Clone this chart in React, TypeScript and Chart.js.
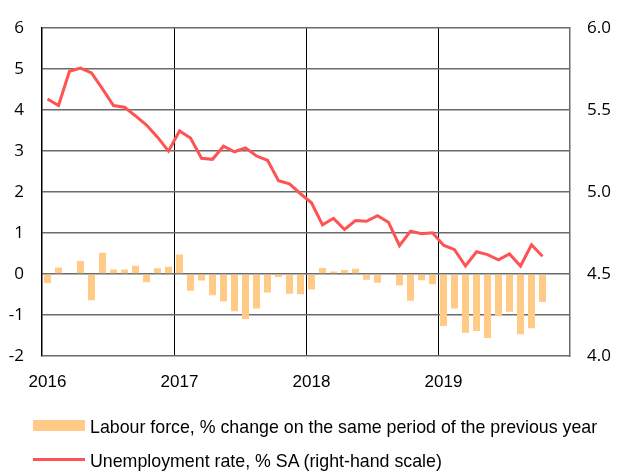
import React, { useEffect, useRef } from "react";
import { Chart, registerables } from "chart.js";

Chart.register(...registerables);

const years = ["2016", "2017", "2018", "2019"];
const months = years.flatMap((y) =>
  Array.from({ length: 12 }, (_, m) => `${y}-${String(m + 1).padStart(2, "0")}`)
);

const labourForce = [
  -0.22, 0.16, 0.02, 0.32, -0.64, 0.52, 0.11, 0.11, 0.2, -0.2, 0.14, 0.18,
  0.48, -0.41, -0.16, -0.52, -0.67, -0.91, -1.1, -0.84, -0.45, -0.07, -0.48, -0.49,
  -0.38, 0.15, 0.06, 0.1, 0.13, -0.14, -0.21, -0.01, -0.28, -0.65, -0.15, -0.25,
  -1.27, -0.84, -1.43, -1.39, -1.56, -1.02, -0.92, -1.47, -1.32, -0.68,
];

const unemployment = [
  5.568, 5.528, 5.737, 5.757, 5.727, 5.63, 5.528, 5.518, 5.465, 5.409, 5.335, 5.25,
  5.373, 5.33, 5.206, 5.2, 5.28, 5.246, 5.27, 5.22, 5.194, 5.07, 5.05, 4.99,
  4.935, 4.8, 4.84, 4.772, 4.826, 4.822, 4.856, 4.816, 4.673, 4.762, 4.746, 4.752,
  4.676, 4.649, 4.549, 4.636, 4.619, 4.587, 4.623, 4.549, 4.679, 4.609,
];

const leftTicks = [-2, -1, 0, 1, 2, 3, 4, 5, 6];
const rightTicks = [4.0, 4.5, 5.0, 5.5, 6.0];

const legendLabels = [
  "Labour force, % change on the same period of the previous year",
  "Unemployment rate, % SA (right-hand scale)",
];

const BAR_COLOR = "rgb(255,203,134)";
const LINE_COLOR = "rgb(255,82,82)";
const GRID_COLOR = "#6b6b6b";
const TICK_FONT = '"Open Sans", sans-serif';
const COND_FONT = '"Liberation Sans", Arial, sans-serif';

export default function App() {
  const ref = useRef<HTMLCanvasElement | null>(null);

  useEffect(() => {
    document.body.style.margin = "0";
    const canvas = ref.current;
    if (!canvas) return;
    const chart = new Chart(canvas, {
      type: "bar",
      data: {
        labels: months,
        datasets: [
          {
            type: "line",
            label: legendLabels[1],
            data: unemployment,
            yAxisID: "y1",
            borderColor: LINE_COLOR,
            backgroundColor: LINE_COLOR,
            borderWidth: 3,
            pointRadius: 0,
            tension: 0,
            order: 0,
          },
          {
            type: "bar",
            label: legendLabels[0],
            data: labourForce,
            yAxisID: "y",
            backgroundColor: BAR_COLOR,
            categoryPercentage: 1,
            barPercentage: 0.64,
            order: 1,
          },
        ],
      },
      options: {
        animation: false,
        responsive: false,
        layout: { padding: { top: 21, left: 0, right: 0, bottom: 0 } },
        plugins: { legend: { display: false }, tooltip: { enabled: false } },
        scales: {
          x: {
            type: "category",
            offset: true,
            grid: {
              offset: true,
              drawTicks: false,
              color: (ctx: any) => (ctx.index % 12 === 0 && ctx.index > 0 && ctx.index < 48 ? "#000" : "rgba(0,0,0,0)"),
              lineWidth: 1,
            },
            border: { display: false },
            ticks: {
              autoSkip: false,
              maxRotation: 0,
              padding: 16,
              color: "#000",
              font: { family: COND_FONT, size: 17 },
              callback: (_v: any, i: number) => (i % 12 === 0 ? years[i / 12] : ""),
            },
            afterFit: (s: any) => {
              s.height = 473 - 356;
            },
          },
          y: {
            type: "linear",
            position: "left",
            min: -2,
            max: 6,
            afterBuildTicks: (s: any) => {
              s.ticks = leftTicks.map((v) => ({ value: v }));
            },
            grid: { color: GRID_COLOR, lineWidth: 1.5, drawTicks: false },
            border: { display: true, color: "#000", width: 1.5 },
            ticks: {
              padding: 18,
              color: "#000",
              font: { family: TICK_FONT, size: 17 },
              callback: (v: any) => String(v),
            },
            afterFit: (s: any) => {
              s.width = 42;
            },
          },
          y1: {
            type: "linear",
            position: "right",
            min: 4,
            max: 6,
            afterBuildTicks: (s: any) => {
              s.ticks = rightTicks.map((v) => ({ value: v }));
            },
            grid: { display: false, drawTicks: false },
            border: { display: true, color: GRID_COLOR, width: 1.5 },
            ticks: {
              padding: 17,
              color: "#000",
              font: { family: TICK_FONT, size: 17 },
              callback: (v: any) => Number(v).toFixed(1),
            },
            afterFit: (s: any) => {
              s.width = 617 - 570;
            },
          },
        },
      },
    });
    return () => chart.destroy();
  }, []);

  const textStyle: React.CSSProperties = {
    position: "absolute",
    left: 90,
    fontFamily: COND_FONT,
    fontSize: 17.8,
    color: "#000",
    whiteSpace: "nowrap",
    lineHeight: "22px",
  };

  return (
    <div style={{ position: "relative", width: 617, height: 473 }}>
      <canvas ref={ref} width={617} height={473} style={{ display: "block" }} />
      <div style={{ position: "absolute", left: 33, top: 420, width: 52, height: 11, background: BAR_COLOR }} />
      <div style={{ ...textStyle, top: 416 }}>{legendLabels[0]}</div>
      <div style={{ position: "absolute", left: 33, top: 458, width: 52, height: 3, background: LINE_COLOR }} />
      <div style={{ ...textStyle, top: 450 }}>{legendLabels[1]}</div>
    </div>
  );
}
